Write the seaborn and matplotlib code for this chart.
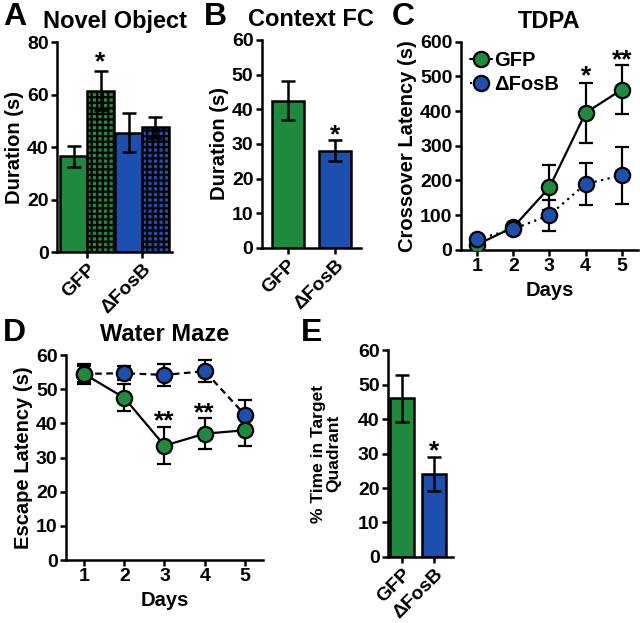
import numpy as np
import pandas as pd
import matplotlib.pyplot as plt
import seaborn as sns

sns.set_style("ticks")
plt.rcParams['font.family'] = ['Liberation Sans', 'DejaVu Sans']
plt.rcParams['font.weight'] = 'bold'
plt.rcParams['axes.labelweight'] = 'bold'
plt.rcParams['hatch.linewidth'] = 1.6
plt.rcParams['axes.linewidth'] = 1.8
for k in ['text.color', 'axes.labelcolor', 'xtick.color', 'ytick.color', 'axes.edgecolor']:
    plt.rcParams[k] = 'black'

GREEN = "#1d8a3e"
BLUE = "#1c4fae"

groups = ["GFP", "\u0394FosB"]
days = [1, 2, 3, 4, 5]

# A: novel object (familiar / novel)
novel_cond = ["Familiar", "Novel"]
novel_mean = [[36.5, 61.5], [45.5, 47.5]]
novel_sem = [[4, 7.5], [7.5, 4]]

# B: context fear conditioning
cfc_mean = [42.5, 28]
cfc_sem = [5.5, 3]

# C: TDPA
tdpa_gfp = [15, 65, 180, 395, 462]
tdpa_gfp_sem = [5, 10, 65, 87, 70]
tdpa_fosb = [30, 60, 100, 190, 215]
tdpa_fosb_sem = [8, 10, 45, 60, 82]

# D: water maze
wm_gfp = [54.5, 47.5, 33.5, 37, 38]
wm_gfp_sem = [3, 4, 5.5, 4.5, 4.5]
wm_fosb = [54.5, 54.7, 54.2, 55.3, 42.5]
wm_fosb_sem = [2.3, 2, 3.2, 3.2, 4.5]

# E: probe trial
probe_mean = [46, 24]
probe_sem = [6.8, 5]

fig = plt.figure(figsize=(6.4, 6.23), dpi=100)
tick_fs = 14
lab_fs = 14.5
title_fs = 17
star_fs = 19


def style(ax):
    sns.despine(ax=ax)
    ax.tick_params(width=1.8, length=4, labelsize=tick_fs, pad=2)
    for t in ax.get_xticklabels() + ax.get_yticklabels():
        t.set_fontweight('bold')


def rot_labels(ax):
    ax.set_xticks(range(len(groups)))
    ax.set_xticklabels(groups, rotation=45, ha='right', rotation_mode='anchor',
                       fontweight='bold', fontsize=tick_fs)


# ---- A ----
axA = fig.add_axes([0.089, 0.5955, 0.18, 0.337])
dfA = pd.DataFrame({
    "group": np.repeat(groups, 2),
    "cond": novel_cond * 2,
    "val": np.array(novel_mean).ravel(),
})
sns.barplot(data=dfA, x="group", y="val", hue="cond", ax=axA, errorbar=None,
            width=0.98, edgecolor="black", linewidth=1.8, legend=False,
            saturation=1)
colsA = [GREEN, BLUE]
for i, p in enumerate(axA.patches[:4]):
    # patches are ordered by hue then group
    h = i // 2
    g = i % 2
    p.set_facecolor(colsA[g])
    if h == 1:
        p.set_hatch('+++')
    x = p.get_x() + p.get_width() / 2
    axA.errorbar(x, novel_mean[g][h], yerr=novel_sem[g][h], color='black',
                 capsize=5, elinewidth=1.8, capthick=1.8)
axA.set_ylim(0, 80)
axA.set_yticks([0, 20, 40, 60, 80])
axA.set_xlim(-0.55, 1.55)
axA.set_xlabel("")
axA.set_ylabel("Duration (s)", fontsize=lab_fs, labelpad=2)
axA.set_title("Novel Object", fontsize=title_fs, fontweight='bold', pad=10)
axA.text(0.245, 69.5, "*", ha='center', fontsize=star_fs, fontweight='bold')
style(axA)
rot_labels(axA)

# ---- B ----
axB = fig.add_axes([0.409, 0.602, 0.155, 0.334])
dfB = pd.DataFrame({"group": groups, "val": cfc_mean})
sns.barplot(data=dfB, x="group", y="val", hue="group", palette=[GREEN, BLUE],
            ax=axB, errorbar=None, width=0.68, edgecolor="black", linewidth=1.8,
            legend=False, saturation=1)
axB.errorbar([0, 1], cfc_mean, yerr=cfc_sem, fmt='none', color='black',
             capsize=5, elinewidth=1.8, capthick=1.8)
axB.set_ylim(0, 60)
axB.set_yticks(range(0, 61, 10))
axB.set_xlim(-0.55, 1.55)
axB.set_xlabel("")
axB.set_ylabel("Duration (s)", fontsize=lab_fs, labelpad=2)
axB.set_title("Context FC", fontsize=title_fs, fontweight='bold', pad=10)
axB.text(1, 30.5, "*", ha='center', fontsize=star_fs, fontweight='bold')
style(axB)
rot_labels(axB)

# ---- C ----
axC = fig.add_axes([0.720, 0.599, 0.277, 0.334])
dfC = pd.DataFrame({"day": days * 2,
                    "val": tdpa_gfp + tdpa_fosb,
                    "group": [groups[0]] * 5 + [groups[1]] * 5})
axC.errorbar(days, tdpa_gfp, yerr=tdpa_gfp_sem, fmt='none', color='black',
             capsize=5, elinewidth=1.6, capthick=1.6, zorder=1)
axC.errorbar(days, tdpa_fosb, yerr=tdpa_fosb_sem, fmt='none', color='black',
             capsize=5, elinewidth=1.6, capthick=1.6, zorder=1)
sns.lineplot(data=dfC, x="day", y="val", hue="group", style="group",
             palette=[GREEN, BLUE], dashes=[(None, None), (1, 2)], ax=axC,
             legend=False, linewidth=1.6, zorder=2)
for line in axC.get_lines():
    line.set_color('black')
axC.plot(days, tdpa_gfp, 'o', ms=11, mfc=GREEN, mec='black', mew=1.6, zorder=3)
axC.plot(days, tdpa_fosb, 'o', ms=11, mfc=BLUE, mec='black', mew=1.6, zorder=3)
lg1, = axC.plot([], [], '-o', color='black', ms=11, mfc=GREEN, mec='black', mew=1.6)
lg2, = axC.plot([], [], ':o', color='black', ms=11, mfc=BLUE, mec='black', mew=1.6)
leg = axC.legend([lg1, lg2], groups, loc='upper left', frameon=False,
                 fontsize=14.5, handlelength=1.1, handletextpad=0.1,
                 borderaxespad=0.05, labelspacing=0.25,
                 bbox_to_anchor=(0.0, 1.0))
for t in leg.get_texts():
    t.set_fontweight('bold')
axC.set_ylim(0, 600)
axC.set_xlim(0.55, 5.45)
axC.set_xticks(days)
axC.set_yticks(range(0, 601, 100))
axC.set_xlabel("Days", fontsize=lab_fs)
axC.set_ylabel("Crossover Latency (s)", fontsize=lab_fs, labelpad=2)
axC.set_title("TDPA", fontsize=title_fs, fontweight='bold', pad=10)
axC.text(4, 480, "*", ha='center', fontsize=star_fs, fontweight='bold')
axC.text(5, 525, "**", ha='center', fontsize=star_fs, fontweight='bold')
style(axC)

# ---- D ----
axD = fig.add_axes([0.103, 0.101, 0.308, 0.329])
dfD = pd.DataFrame({"day": days * 2,
                    "val": wm_gfp + wm_fosb,
                    "group": [groups[0]] * 5 + [groups[1]] * 5})
axD.errorbar(days, wm_gfp, yerr=wm_gfp_sem, fmt='none', color='black',
             capsize=5, elinewidth=1.6, capthick=1.6, zorder=1)
axD.errorbar(days, wm_fosb, yerr=wm_fosb_sem, fmt='none', color='black',
             capsize=5, elinewidth=1.6, capthick=1.6, zorder=1)
sns.lineplot(data=dfD, x="day", y="val", hue="group", style="group",
             palette=[GREEN, BLUE], dashes=[(None, None), (3, 2)], ax=axD,
             legend=False, linewidth=1.6, zorder=2)
for line in axD.get_lines():
    line.set_color('black')
axD.plot(days, wm_fosb, 'o', ms=11, mfc=BLUE, mec='black', mew=1.6, zorder=3)
axD.plot(days, wm_gfp, 'o', ms=11, mfc=GREEN, mec='black', mew=1.6, zorder=4)
axD.set_ylim(0, 60)
axD.set_xlim(0.55, 5.45)
axD.set_xticks(days)
axD.set_yticks(range(0, 61, 10))
axD.set_xlabel("Days", fontsize=lab_fs)
axD.set_ylabel("Escape Latency (s)", fontsize=lab_fs, labelpad=2)
axD.set_title("Water Maze", fontsize=title_fs, fontweight='bold', pad=10)
axD.text(3, 38.5, "**", ha='center', fontsize=star_fs, fontweight='bold')
axD.text(4, 41, "**", ha='center', fontsize=star_fs, fontweight='bold')
style(axD)

# ---- E ----
axE = fig.add_axes([0.606, 0.106, 0.102, 0.332])
dfE = pd.DataFrame({"group": groups, "val": probe_mean})
sns.barplot(data=dfE, x="group", y="val", hue="group", palette=[GREEN, BLUE],
            ax=axE, errorbar=None, width=0.75, edgecolor="black", linewidth=1.8,
            legend=False, saturation=1)
axE.errorbar([0, 1], probe_mean, yerr=probe_sem, fmt='none', color='black',
             capsize=5, elinewidth=1.8, capthick=1.8)
axE.set_ylim(0, 60)
axE.set_yticks(range(0, 61, 10))
axE.set_xlim(-0.45, 1.6)
axE.set_xlabel("")
axE.set_ylabel("% Time in Target\nQuadrant", fontsize=12.5, labelpad=12,
               linespacing=1.0)
axE.text(1, 28.5, "*", ha='center', fontsize=star_fs, fontweight='bold')
style(axE)
rot_labels(axE)

# panel letters
for lab, x, y in [("A", 0.005, 0.972), ("B", 0.318, 0.972), ("C", 0.612, 0.972),
                  ("D", 0.005, 0.465), ("E", 0.470, 0.465)]:
    fig.text(x, y, lab, fontsize=23, fontweight='bold', va='center')

fig.savefig("out.png", dpi=100)
